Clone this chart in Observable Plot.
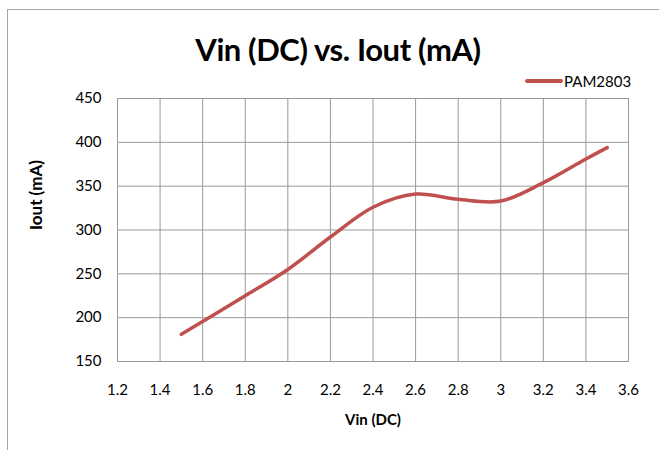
<!DOCTYPE html>
<html>
<head>
<meta charset="utf-8">
<script src="https://cdn.jsdelivr.net/npm/d3@7"></script>
<script src="https://cdn.jsdelivr.net/npm/@observablehq/plot@0.6"></script>
<style>
  html, body { margin: 0; padding: 0; background: #fff; }
  #wrap { position: relative; width: 659px; height: 450px; overflow: hidden; font-family: Lato, "Open Sans", sans-serif; }
  #border { position: absolute; left: 7px; top: 9px; width: 700px; height: 500px; border: 1px solid #a6a6a6; box-sizing: border-box; }
  #chart { position: absolute; left: 0; top: 0; }
  #title { position: absolute; left: 0; width: 676px; top: 30px; text-align: center; font-weight: bold; font-size: 31px; color: #000; letter-spacing: -0.4px; }
  #legend { position: absolute; left: 525px; top: 72px; font-size: 15px; color: #000; display: flex; align-items: center; }
  #legend .sw { width: 38px; height: 4px; background: #c0504d; border-radius: 2px; margin-right: 1px; }
</style>
</head>
<body>
<div id="wrap">
  <div id="border"></div>
  <div id="chart"></div>
  <div id="title">Vin (DC) vs. Iout (mA)</div>
  <div id="legend"><div class="sw"></div><span id="legtext"></span></div>
</div>
<script>
const seriesName = "PAM2803";
const vin  = [1.5, 1.8, 2.0, 2.2, 2.4, 2.6, 2.8, 3.0, 3.2, 3.4, 3.5];
const iout = [181, 225, 255, 292, 326, 341, 335, 333, 354, 381, 394];
const xTicks = [1.2, 1.4, 1.6, 1.8, 2.0, 2.2, 2.4, 2.6, 2.8, 3.0, 3.2, 3.4, 3.6];
const yTicks = [150, 200, 250, 300, 350, 400, 450];
const xTitle = "Vin (DC)";
const yTitle = "Iout (mA)";

const data = vin.map((v, i) => ({vin: v, iout: iout[i]}));
document.getElementById("legtext").textContent = seriesName;

const chart = Plot.plot({
  width: 659,
  height: 450,
  marginLeft: 117,
  marginRight: 31,
  marginTop: 98,
  marginBottom: 89,
  style: {fontFamily: "Lato, 'Open Sans', sans-serif", fontSize: "15px", color: "#000", background: "transparent"},
  x: {domain: [1.2, 3.6]},
  y: {domain: [150, 450]},
  marks: [
    Plot.gridX(xTicks, {stroke: "#999", strokeOpacity: 1, strokeWidth: 1}),
    Plot.gridY(yTicks, {stroke: "#999", strokeOpacity: 1, strokeWidth: 1}),
    Plot.frame({stroke: "#999", strokeWidth: 1}),
    Plot.axisX(xTicks, {tickSize: 0, tickPadding: 23, tickFormat: d => String(+d.toFixed(1)), fontSize: 15, label: null}),
    Plot.axisY(yTicks, {tickSize: 0, tickPadding: 16, fontSize: 15, label: null}),
    Plot.text([xTitle], {frameAnchor: "bottom", dy: 63, fontWeight: "bold", fontSize: 15}),
    Plot.text([yTitle], {frameAnchor: "left", dx: -81, rotate: -90, fontWeight: "bold", fontSize: 17}),
    Plot.line(data, {x: "vin", y: "iout", stroke: "#c0504d", strokeWidth: 3.5, curve: "catmull-rom", strokeLinecap: "round"})
  ]
});
document.getElementById("chart").appendChild(chart);
</script>
</body>
</html>
